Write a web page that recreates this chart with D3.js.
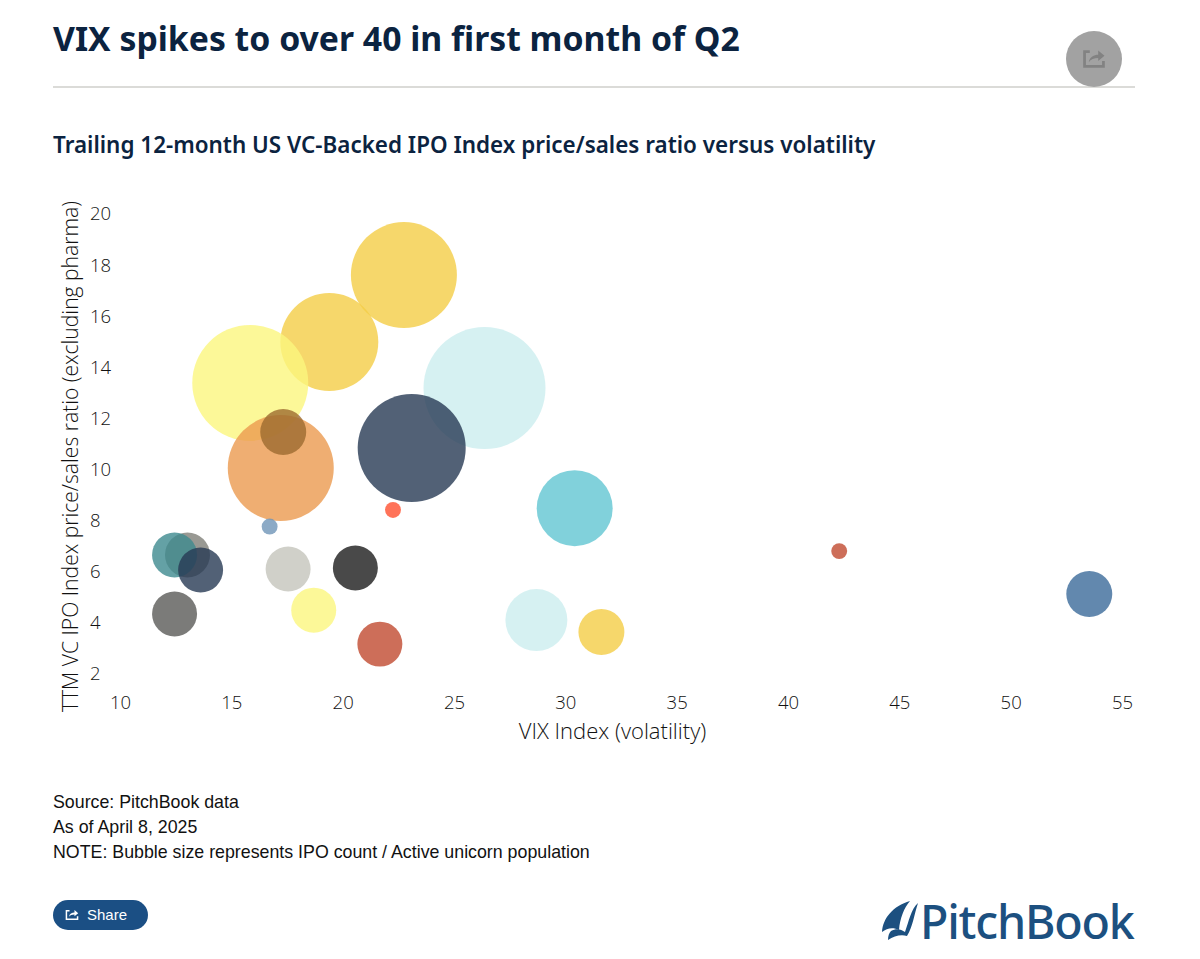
<!DOCTYPE html>
<html><head><meta charset="utf-8">
<script src="https://cdn.jsdelivr.net/npm/d3@7"></script>
<style>
html,body{margin:0;padding:0;background:#fff;}
svg{display:block;}
.tick text{font-family:"Open Sans",sans-serif;font-weight:300;font-size:18.5px;fill:#111;}
</style></head><body>
<svg id="c" width="1200" height="959"></svg>
<script>
const titleText = "VIX spikes to over 40 in first month of Q2";
const subtitleText = "Trailing 12-month US VC-Backed IPO Index price/sales ratio versus volatility";
const xTitle = "VIX Index (volatility)";
const yTitle = "TTM VC IPO Index price/sales ratio (excluding pharma)";
const footerLines = ["Source: PitchBook data","As of April 8, 2025","NOTE: Bubble size represents IPO count / Active unicorn population"];
const xTicks = [10,15,20,25,30,35,40,45,50,55];
const yTicks = [2,4,6,8,10,12,14,16,18,20];
// Estimated bubbles, in drawing order
const vix    = [22.75,19.4,15.85,26.37,23.1,17.22,17.33,30.42,22.26,16.72,42.3,53.53,13.03,12.45,13.62,17.55,20.57,12.45,18.7,21.67,28.7,31.62];
const ratio  = [17.57,14.95,13.35,13.15,10.8,10.02,11.43,8.45,8.38,7.73,6.77,5.09,6.62,6.62,6.03,6.07,6.11,4.31,4.46,3.13,4.07,3.6];
const sizes  = [75.5,64.5,90.4,100,78.4,75.5,14.2,38.8,1.7,1.7,1.7,14.2,13.6,13.6,13.6,13.6,13.6,13.6,13.6,13.6,25.8,14.2];
const colors = ["#f4cd46","#f4cd46","#fbf67e","#cceeef","#273a54","#eb9a4f","#9c6a30","#62c6d2","#ff5030","#6f95b8","#c04a30","#3b6a9a","#808078","#3d8a8e","#273a54","#c4c4bc","#1c1c1c","#5a5a58","#fbf67e","#c04a30","#cceeef","#f4cd46"];

const svg = d3.select("#c");
const x = d3.scaleLinear().domain([10,55]).range([120,1122]);
const y = d3.scaleLinear().domain([2,20]).range([673,213]);
const r = d3.scaleSqrt().domain([0,100]).range([0,61]);

const txt=(s,px,py,font,size,weight,fill,extra={})=>{
  const t=svg.append("text").attr("x",px).attr("y",py).attr("font-family",font).attr("font-size",size).attr("font-weight",weight).attr("fill",fill).text(s);
  Object.entries(extra).forEach(([k,v])=>t.attr(k,v));return t;
};
txt(titleText,53,50.5,"Noto Sans",33.75,700,"#0b2340");
svg.append("line").attr("x1",53).attr("x2",1135).attr("y1",87).attr("y2",87).attr("stroke","#cfcfcb").attr("stroke-width",1.5);
txt(subtitleText,53,152.5,"Noto Sans",22.45,600,"#0b2340");

function shareIcon(g,s,col,sw){
  const i=g.append("g").attr("transform",`scale(${s})`).attr("fill","none").attr("stroke",col).attr("stroke-width",sw);
  i.append("path").attr("d","M-4,-7 H-9 V7 H9 V2");
  i.append("path").attr("d","M-5,3 C-4,-2 0,-4 4,-4 V-8 L10,-3 L4,2 V-1 C0,-1 -3,0 -5,3 Z").attr("fill",col).attr("stroke","none");
}
svg.append("circle").attr("cx",1094).attr("cy",59).attr("r",28).attr("fill","#a2a2a2");
shareIcon(svg.append("g").attr("transform","translate(1094,59)"),1.05,"#828282",2.6);

svg.append("g").selectAll("circle").data(vix).join("circle")
  .attr("cx",(d)=>x(d)).attr("cy",(d,i)=>y(ratio[i])).attr("r",(d,i)=>r(sizes[i]))
  .attr("fill",(d,i)=>colors[i]).attr("fill-opacity",0.8);

const ax=svg.append("g").attr("transform","translate(0,696)").call(d3.axisBottom(x).tickValues(xTicks).tickSize(0).tickPadding(0));
ax.select(".domain").remove();
ax.selectAll("text").attr("dy","0.71em").attr("y",0);
const ay=svg.append("g").attr("transform","translate(90,1)").call(d3.axisLeft(y).tickValues(yTicks).tickSize(0).tickPadding(0));
ay.select(".domain").remove();
ay.selectAll("text").attr("text-anchor","start").attr("x",0);

txt(xTitle,612.5,739,"Open Sans",22,300,"#111",{"text-anchor":"middle"});
svg.append("defs").append("clipPath").attr("id","yc").append("rect").attr("x",50).attr("y",201).attr("width",40).attr("height",520);
svg.append("g").attr("clip-path","url(#yc)").append("text").attr("transform","translate(78,712) rotate(-90)")
  .attr("font-family","Open Sans").attr("font-size",21.1).attr("font-weight",300).attr("fill","#111").text(yTitle);

footerLines.forEach((l,i)=>txt(l,53,[808,832.5,857.5][i],"Liberation Sans",17.8,400,"#111"));

svg.append("rect").attr("x",53).attr("y",900).attr("width",95).attr("height",30).attr("rx",15).attr("fill","#1b4f84");
shareIcon(svg.append("g").attr("transform","translate(72,915)"),0.62,"#fff",2.4);
txt("Share",87,919.5,"Liberation Sans",15,400,"#fff");

txt("PitchBook",920,939,"Noto Sans",46.6,500,"#1c5080",{"letter-spacing":"-1.2px"});
svg.append("path").attr("fill","#1c5080").attr("d","M882,932 C883,918 893,906 910,901 C904,908 900,918 899,930 C893,927 887,928 882,932 Z");
svg.append("path").attr("fill","#1c5080").attr("d","M888,940 C888,936 889,933 891,931 C896,928 901,929 905,932 C909,921 911,909 918,903 C914,915 913,926 907,936 C901,934 894,936 888,940 Z");
</script></body></html>
